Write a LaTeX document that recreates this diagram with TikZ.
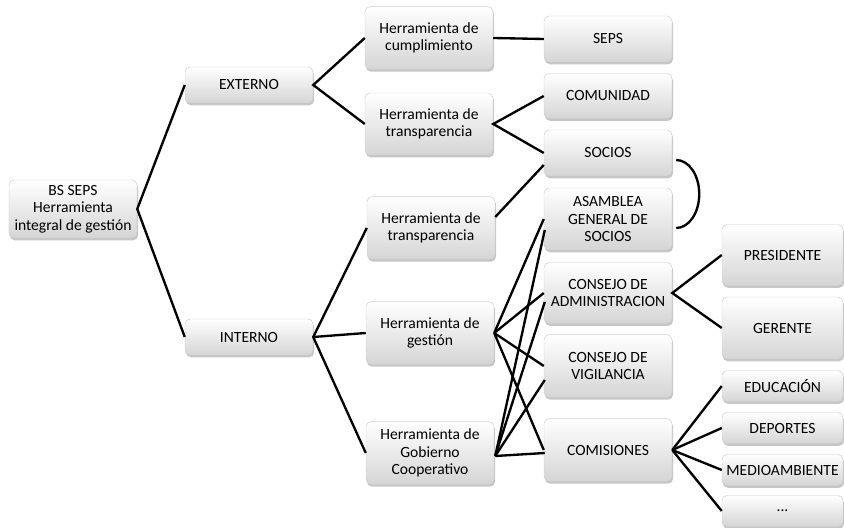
\documentclass[tikz,border=0pt]{standalone}
\usepackage{fontspec}
\setmainfont{Carlito}
\usetikzlibrary{shadows,calc}

\tikzset{
  box/.style={draw=gray!40, rounded corners=0.15cm, top color=white, bottom color=gray!33,
    drop shadow={opacity=0.45, shadow xshift=0.03cm, shadow yshift=-0.07cm},
    align=center, inner sep=1pt, font=\fontsize{13.3}{15}\selectfont, minimum width=3.84cm},
  rbox/.style={box, minimum width=3.63cm},
  link/.style={line width=2pt}
}

\begin{document}
\begin{tikzpicture}[x=0.03cm, y=0.03cm]
    \useasboundingbox (0,0) rectangle (844,527);

    % level 1 and 2
    \node[box, minimum height=1.74cm] (root) at (73,318) {BS SEPS\\Herramienta\\integral de gestión};
    \node[box, minimum height=1.08cm] (externo) at (249,442) {EXTERNO};
    \node[box, minimum height=1.08cm] (interno) at (249,190) {INTERNO};

    % tools
    \node[box, minimum height=1.88cm] (cumpl) at (429,489) {Herramienta de\\cumplimiento};
    \node[box, minimum height=1.86cm] (transpExt) at (429,403) {Herramienta de\\transparencia};
    \node[box, minimum height=1.88cm] (transpInt) at (431,299) {Herramienta de\\transparencia};
    \node[box, minimum height=1.88cm] (gestion) at (430,194) {Herramienta de\\gestión};
    \node[box, minimum height=1.88cm] (gobierno) at (430,74) {Herramienta de\\Gobierno\\Cooperativo};

    % actors
    \node[box, minimum height=1.38cm] (seps) at (608,488) {SEPS};
    \node[box, minimum height=1.35cm] (comunidad) at (608,431) {COMUNIDAD};
    \node[box, minimum height=1.38cm] (socios) at (608,374) {SOCIOS};
    \node[box, minimum height=1.86cm] (asamblea) at (608,308) {ASAMBLEA\\GENERAL DE\\SOCIOS};
    \node[box, minimum height=1.83cm] (admin) at (608,234) {CONSEJO DE\\ADMINISTRACION};
    \node[box, minimum height=1.88cm] (vigilancia) at (608,161) {CONSEJO DE\\VIGILANCIA};
    \node[box, minimum height=1.88cm] (comisiones) at (608,77) {COMISIONES};

    % last column
    \node[rbox, minimum height=1.83cm] (presidente) at (782.5,272) {PRESIDENTE};
    \node[rbox, minimum height=1.86cm] (gerente) at (782.5,199) {GERENTE};
    \node[rbox, minimum height=0.93cm] (educacion) at (782.5,141) {EDUCACIÓN};
    \node[rbox, minimum height=0.93cm] (deportes) at (782.5,99) {DEPORTES};
    \node[rbox, minimum height=0.93cm] (medio) at (782.5,57) {MEDIOAMBIENTE};
    \node[rbox, minimum height=0.93cm] (otras) at (782.5,16) {...};

    \draw[link] (externo.west) -- (root.east) -- (interno.west);
    \draw[link] (cumpl.west) -- (externo.east) -- (transpExt.west);
    \draw[link] (transpInt.west) -- (interno.east) -- (gobierno.west);
    \draw[link] (interno.east) -- (gestion.west);

    \draw[link] (cumpl.east) -- (seps.west);
    \draw[link] (comunidad.west) -- (transpExt.east) -- (socios.west);
    \draw[link] ($(transpInt.east)+(0,11)$) -- ($(socios.west)+(0,-12)$);

    \foreach \n in {asamblea, admin, vigilancia, comisiones}
        \draw[link] (gestion.east) -- (\n.west);
    \draw[link] ($(gobierno.east)+(1,-3)$) -- ($(asamblea.west)+(1,-11)$);
    \draw[link] ($(gobierno.east)+(1,-3)$) -- ($(admin.west)+(1,-9)$);
    \draw[link] ($(gobierno.east)+(1,-3)$) -- ($(vigilancia.west)+(1,-14)$);
    \draw[link] ($(gobierno.east)+(1,-3)$) -- ($(comisiones.west)+(1,-3)$);

    \draw[link] (presidente.west) -- (admin.east) -- (gerente.west);
    \foreach \n in {educacion, deportes, medio, otras}
        \draw[link] (comisiones.east) -- (\n.west);

    \draw[link] ($(socios.east)+(4,-7)$) arc[start angle=90, end angle=-90, x radius=0.69cm, y radius=1.02cm];
\end{tikzpicture}
\end{document}
